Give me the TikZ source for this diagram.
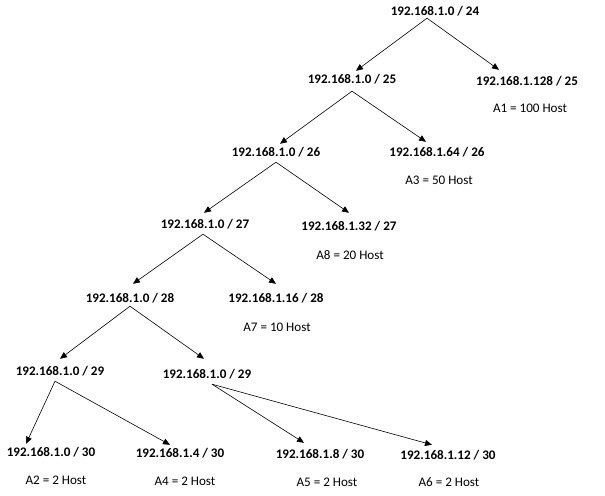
\documentclass[tikz,border=0pt]{standalone}
\usepackage{fontspec}
\setmainfont{Carlito}
\usetikzlibrary{arrows.meta}

\begin{document}
\begin{tikzpicture}[x=1bp,y=-1bp,
    net/.style={font=\fontsize{13.1bp}{15bp}\selectfont\bfseries,inner sep=0pt,
      text height=9bp,text depth=2bp,minimum height=18bp},
    hosts/.style={font=\fontsize{13.1bp}{15bp}\selectfont,inner sep=0pt},
    split/.style={line width=0.6pt,-{Triangle[length=7bp,width=6bp]}}]
        \useasboundingbox (0,0) rectangle (605,496);

        % The subnets
        \node[net] (n24) at (435,12) {192.168.1.0 / 24};
        \node[net] (n25) at (352,80) {192.168.1.0 / 25};
        \node[net] (n128) at (527,82) {192.168.1.128 / 25};
        \node[net] (n26) at (276,153) {192.168.1.0 / 26};
        \node[net] (n64) at (437,153) {192.168.1.64 / 26};
        \node[net] (n27) at (205,225) {192.168.1.0 / 27};
        \node[net] (n32) at (349,227) {192.168.1.32 / 27};
        \node[net] (n28) at (130,299) {192.168.1.0 / 28};
        \node[net] (n16) at (276,299) {192.168.1.16 / 28};
        \node[net] (n29a) at (60,372) {192.168.1.0 / 29};
        \node[net] (n29b) at (207,375) {192.168.1.0 / 29};
        \node[net] (n0) at (51,453) {192.168.1.0 / 30};
        \node[net] (n4) at (180,454) {192.168.1.4 / 30};
        \node[net] (n8) at (320,455) {192.168.1.8 / 30};
        \node[net] (n12) at (448,456) {192.168.1.12 / 30};

        % The host counts
        \node[hosts] (a1) at (530,108) {A1 = 100 Host};
        \node[hosts] (a3) at (439,180) {A3 = 50 Host};
        \node[hosts] (a8) at (350,255) {A8 = 20 Host};
        \node[hosts] (a7) at (277,327) {A7 = 10 Host};
        \node[hosts] (a2) at (56,480) {A2 = 2 Host};
        \node[hosts] (a4) at (185,481) {A4 = 2 Host};
        \node[hosts] (a5) at (327,482) {A5 = 2 Host};
        \node[hosts] (a6) at (449,482) {A6 = 2 Host};

        % The splits
        \draw[split] ([xshift=-8bp,yshift=3bp]n24.south) -- ([xshift=4bp]n25.north);
        \draw[split] ([xshift=-8bp,yshift=3bp]n24.south) -- ([xshift=-28bp,yshift=3bp]n128.north);
        \draw[split] ([yshift=-2bp]n25.south) -- ([xshift=4bp]n26.north);
        \draw[split] ([yshift=-2bp]n25.south) -- ([xshift=-11bp,yshift=2bp]n64.north);
        \draw[split] (n26.south) -- ([xshift=-1bp,yshift=3bp]n27.north);
        \draw[split] (n26.south) -- ([yshift=5bp]n32.north);
        \draw[split] ([xshift=-2bp]n27.south) -- ([xshift=3bp,yshift=6bp]n28.north);
        \draw[split] ([xshift=-2bp]n27.south) -- ([yshift=6bp]n16.north);
        \draw[split] ([yshift=2bp]n28.south) -- ([yshift=4bp]n29a.north);
        \draw[split] ([yshift=2bp]n28.south) -- ([xshift=-3bp,yshift=7bp]n29b.north);
        \draw[split] ([xshift=-5bp]n29a.south) -- ([xshift=-25bp]n0.north);
        \draw[split] ([xshift=-5bp]n29a.south) -- ([xshift=-10bp]n4.north);
        \draw[split] ([xshift=5bp]n29b.south) -- ([xshift=-16bp,yshift=3bp]n8.north);
        \draw[split] ([xshift=5bp]n29b.south) -- ([xshift=-16bp,yshift=2bp]n12.north);
\end{tikzpicture}
\end{document}
